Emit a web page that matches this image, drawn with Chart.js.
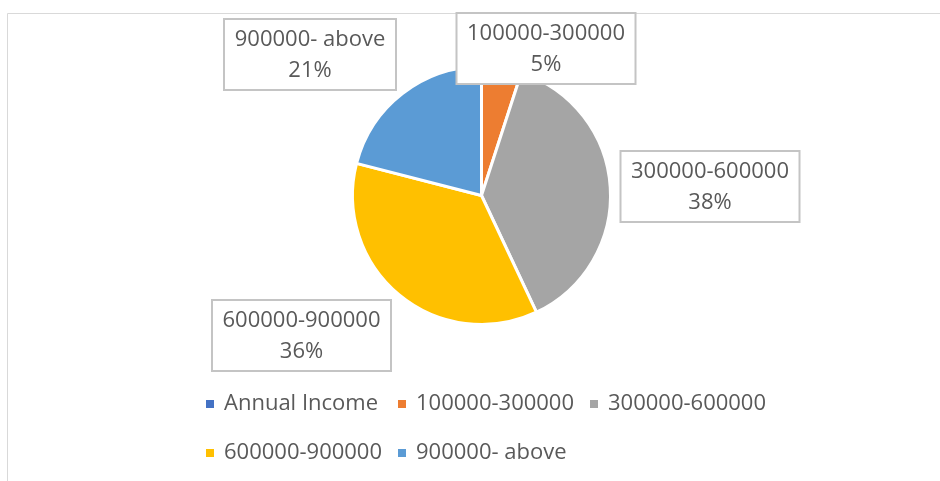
<!DOCTYPE html>
<html>
<head>
<meta charset="utf-8">
<script src="https://cdn.jsdelivr.net/npm/chart.js@4"></script>
<style>
  body { margin: 0; background: #fff; }
  #wrap { width: 940px; height: 481px; }
</style>
</head>
<body>
<div id="wrap"><canvas id="incomeChart" width="940" height="481"></canvas></div>
<script>
// data (percent of respondents)
const categories = ['Annual Income', '100000-300000', '300000-600000', '600000-900000', '900000- above'];
const shares = [0, 5, 38, 36, 21];
const sliceColors = ['#4472C4', '#ED7D31', '#A5A5A5', '#FFC000', '#5B9BD5'];

// where each label box sits, relative to the pie centre (Excel moved them by hand)
const labelOffsets = [null, [64.5, -147], [228.5, -9], [-180, 140], [-171.5, -141]];

const textColor = '#595959';
const textFont = '22px "Open Sans"';

// chart frame: only left and top edges are visible in the crop
const framePlugin = {
  id: 'frame',
  beforeDraw(chart) {
    const ctx = chart.ctx;
    ctx.save();
    ctx.fillStyle = '#fff';
    ctx.fillRect(0, 0, chart.width, chart.height);
    ctx.strokeStyle = '#d9d9d9';
    ctx.lineWidth = 1;
    ctx.beginPath();
    ctx.moveTo(7.5, chart.height);
    ctx.lineTo(7.5, 13.5);
    ctx.lineTo(chart.width, 13.5);
    ctx.stroke();
    ctx.restore();
  }
};

// boxed data labels: name on one line, percent below
const boxLabels = {
  id: 'boxLabels',
  afterDatasetsDraw(chart) {
    const ctx = chart.ctx;
    const meta = chart.getDatasetMeta(0);
    const total = shares.reduce((a, b) => a + b, 0);
    ctx.save();
    ctx.font = textFont;
    ctx.textAlign = 'center';
    ctx.textBaseline = 'middle';
    meta.data.forEach((arc, i) => {
      if (!shares[i] || !labelOffsets[i]) return;
      const cx = arc.x + labelOffsets[i][0];
      const cy = arc.y + labelOffsets[i][1];
      const name = categories[i];
      const pct = Math.round(shares[i] / total * 100) + '%';
      const w = Math.round(ctx.measureText(name).width) + 21;
      const h = 71;
      ctx.fillStyle = '#fff';
      ctx.fillRect(cx - w / 2, cy - h / 2, w, h);
      ctx.strokeStyle = '#c4c4c4';
      ctx.lineWidth = 2;
      ctx.strokeRect(cx - w / 2, cy - h / 2, w, h);
      ctx.fillStyle = textColor;
      ctx.fillText(name, cx, cy - 15);
      ctx.fillText(pct, cx, cy + 16);
    });
    ctx.restore();
  }
};

// Excel-style legend: fixed columns, 3 per row
const gridLegend = {
  id: 'gridLegend',
  afterDraw(chart) {
    const ctx = chart.ctx;
    const x0 = 206, y0 = 404, colW = 192, rowH = 49, perRow = 3;
    ctx.save();
    ctx.font = textFont;
    ctx.textAlign = 'left';
    ctx.textBaseline = 'middle';
    categories.forEach((name, i) => {
      const x = x0 + (i % perRow) * colW;
      const y = y0 + Math.floor(i / perRow) * rowH;
      ctx.fillStyle = sliceColors[i];
      ctx.fillRect(x, y - 4, 8, 8);
      ctx.fillStyle = textColor;
      ctx.fillText(name, x + 18, y);
    });
    ctx.restore();
  }
};

new Chart(document.getElementById('incomeChart'), {
  type: 'pie',
  data: {
    labels: categories,
    datasets: [{
      data: shares,
      backgroundColor: sliceColors,
      borderColor: '#fff',
      borderWidth: 3
    }]
  },
  options: {
    responsive: false,
    animation: false,
    radius: 129,
    layout: {
      padding: { left: 23, right: 0, top: 67.5, bottom: 157.5 }
    },
    plugins: {
      legend: { display: false },
      tooltip: { enabled: false }
    }
  },
  plugins: [framePlugin, boxLabels, gridLegend]
});
</script>
</body>
</html>
